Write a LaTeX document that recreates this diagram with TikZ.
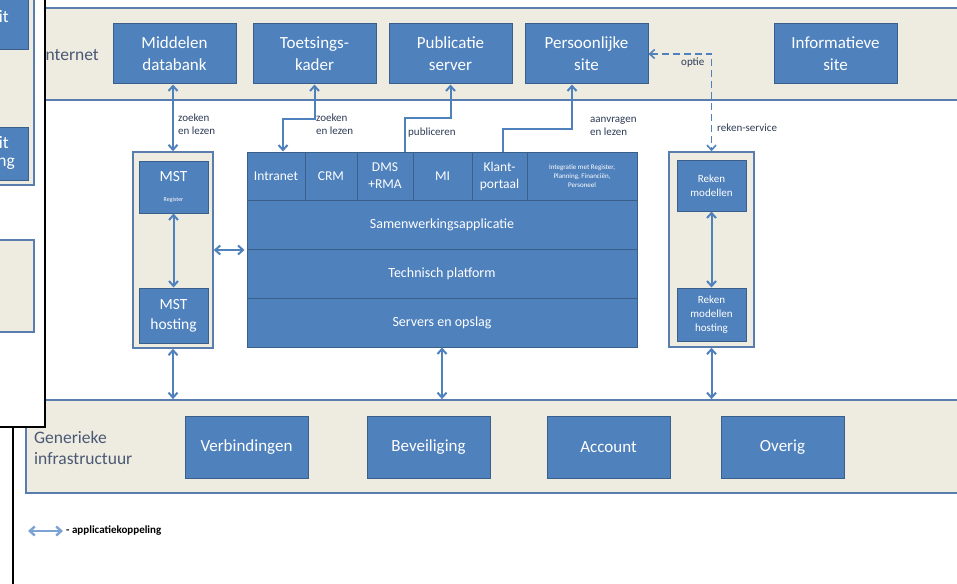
\documentclass[tikz,border=0pt]{standalone}
\usepackage{fontspec}
\setmainfont{Carlito}
\usetikzlibrary{arrows.meta}
\definecolor{boxblue}{HTML}{4F81BD}
\definecolor{boxline}{HTML}{3A5F8B}
\definecolor{beige}{HTML}{EEECE1}
\definecolor{bandline}{HTML}{5A7DB0}
\definecolor{labelgray}{HTML}{2E3B55}
\definecolor{captiongray}{HTML}{4A5873}
\definecolor{legendblue}{HTML}{7DA2D4}
\begin{document}
\begin{tikzpicture}[x=1pt,y=-1pt,
	blok/.style={draw=boxline,line width=1pt,fill=boxblue,text=white,align=center,inner sep=0pt},
	groot/.style={blok,minimum width=123,minimum height=60,font=\fontsize{17}{22}\selectfont},
	module/.style={blok,minimum height=48,font=\fontsize{13.5}{17}\selectfont},
	laag/.style={blok,minimum width=390,minimum height=49,font=\fontsize{14}{17}\selectfont},
	klein/.style={blok,minimum width=69},
	band/.style={draw=bandline,line width=1.8pt,fill=beige,inner sep=0pt},
	houder/.style={draw=bandline,line width=1.5pt,fill=beige,inner sep=0pt},
	kop/.style={text=captiongray,font=\fontsize{17.5}{21}\selectfont,align=left,inner sep=0pt,anchor=west},
	tekst/.style={text=labelgray,font=\fontsize{11}{13}\selectfont,align=left,inner sep=0pt,anchor=west},
	koppeling/.style={draw=boxblue,line width=2pt,{Straight Barb[length=5pt,width=9pt]}-{Straight Barb[length=5pt,width=9pt]}},
	enkel/.style={draw=boxblue,line width=2pt,-{Straight Barb[length=5pt,width=9pt]}},
	optie/.style={koppeling,line width=1.6pt,dash pattern=on 7pt off 4pt}]
	\useasboundingbox (0,0) rectangle (957,583);
	\fill[white] (0,0) rectangle (957,583);
	\clip (0,0) rectangle (957,583);
	\node[band,minimum width=960,minimum height=92] (internet) at (510,54) {};
	\node[band,minimum width=964,minimum height=93] (infra) at (508,446.5) {};
	\node[kop] (intlbl) at (41,55) {Internet};
	\node[kop] (genlbl) at (34,448) {Generieke\\infrastructuur};
	\node[groot] (mdb) at (174.5,54) {Middelen\\databank};
	\node[groot] (tk) at (314.5,54) {Toetsings-\\kader};
	\node[groot] (pub) at (450.5,54) {Publicatie\\server};
	\node[groot] (pers) at (586.5,54) {Persoonlijke\\site};
	\node[groot] (info) at (835.5,54) {Informatieve\\site};
	\node[groot,minimum height=62] (verb) at (246.5,447) {Verbindingen};
	\node[groot,minimum height=62] (bev) at (428.5,447) {Beveiliging};
	\node[groot,minimum height=62] (acc) at (608.5,447) {Account};
	\node[groot,minimum height=62] (ov) at (782.5,447) {Overig};
	\node[module,minimum width=58] (intra) at (276,176) {Intranet};
	\node[module,minimum width=52] (crm) at (331,176) {CRM};
	\node[module,minimum width=56] (dms) at (385,176) {DMS\\+RMA};
	\node[module,minimum width=59] (mi) at (442.5,176) {MI};
	\node[module,minimum width=55] (klant) at (499.5,176) {Klant-\\portaal};
	\node[module,minimum width=110,font=\fontsize{7}{9}\selectfont] (integ) at (582,176) {Integratie met Register,\\Planning, Financiën,\\Personeel};
	\node[laag] (samen) at (442,224.5) {Samenwerkingsapplicatie};
	\node[laag] (tech) at (442,273.5) {Technisch platform};
	\node[laag] (serv) at (442,322.5) {Servers en opslag};
	\node[houder,minimum width=80,minimum height=196] (mstc) at (173,250) {};
	\node[klein,minimum height=52,font=\fontsize{15.5}{19}\selectfont] (mstr) at (173.5,187) {MST\\[1pt]\fontsize{6}{7}\selectfont Register};
	\node[klein,minimum height=55,font=\fontsize{15.5}{20}\selectfont] (msth) at (173.5,315.5) {MST\\hosting};
	\node[houder,minimum width=85,minimum height=195] (rekc) at (711.5,249.5) {};
	\node[klein,minimum height=51,font=\fontsize{11}{14}\selectfont] (rekm) at (711.5,185.5) {Reken\\modellen};
	\node[klein,minimum height=53,font=\fontsize{11}{14}\selectfont] (rekh) at (711.5,314.5) {Reken\\modellen\\hosting};
	\draw[koppeling] (mstc.north |- mdb.south) -- (mstc.north);
	\draw[koppeling] (mstr.south) -- (msth.north);
	\draw[koppeling] (mstc.south) -- (mstc.south |- infra.north);
	\draw[koppeling] (mstc.east) -- ([xshift=-2]mstc.east -| samen.west);
	\draw[koppeling] (tk.south) -- ++(0,34) -| ([xshift=7]intra.north);
	\draw[enkel] ([xshift=20]dms.north) -- ++(0,-34) -| (pub.south);
	\draw[enkel] ([xshift=3.5]klant.north) -- ++(0,-23) -| ([xshift=-14.5]pers.south);
	\draw[optie] (pers.east) -| (rekc.north);
	\draw[koppeling] (serv.south) -- (serv.south |- infra.north);
	\draw[koppeling] (rekm.south) -- (rekh.north);
	\draw[koppeling] (rekc.south) -- (rekc.south |- infra.north);
	\node[tekst] (zl1) at (178,124.5) {zoeken\\en lezen};
	\node[tekst] (zl2) at (316,124.5) {zoeken\\en lezen};
	\node[tekst] (publ) at (408,133) {publiceren};
	\node[tekst] (aanv) at (590,126) {aanvragen\\en lezen};
	\node[tekst] (opt) at (681,63) {optie};
	\node[tekst] (rks) at (717,128) {reken-service};
	\coordinate (legA) at (28,531);
	\coordinate (legB) at (63,531);
	\draw[koppeling,draw=legendblue,line width=2.4pt] (legA) -- (legB);
	\node[tekst,text=black,font=\bfseries\fontsize{11}{13}\selectfont] (legtxt) at (66,531) {- applicatiekoppeling};
	\begin{scope}
	\fill[white] (-5,-5) rectangle (45,427);
	\clip (-5,-5) rectangle (45,427);
	\draw[houder] (-30,-10) rectangle (34,185);
	\draw[blok] (-60,-10) rectangle (28,50);
	\draw[blok] (-60,127) rectangle (28,180);
	\draw[houder] (-30,240) rectangle (34,332);
	\node[kop,text=white,anchor=east] (frag1) at (9,17) {it};
	\node[kop,text=white,anchor=east] (frag2) at (9,143) {it};
	\node[kop,text=white,anchor=east] (frag3) at (15,164) {ng};
	\end{scope}
	\draw[black,line width=1.6pt] (-5,-5) rectangle (45,427);
	\draw[black,line width=1.6pt] (13,427) -- (13,600);
\end{tikzpicture}
\end{document}
